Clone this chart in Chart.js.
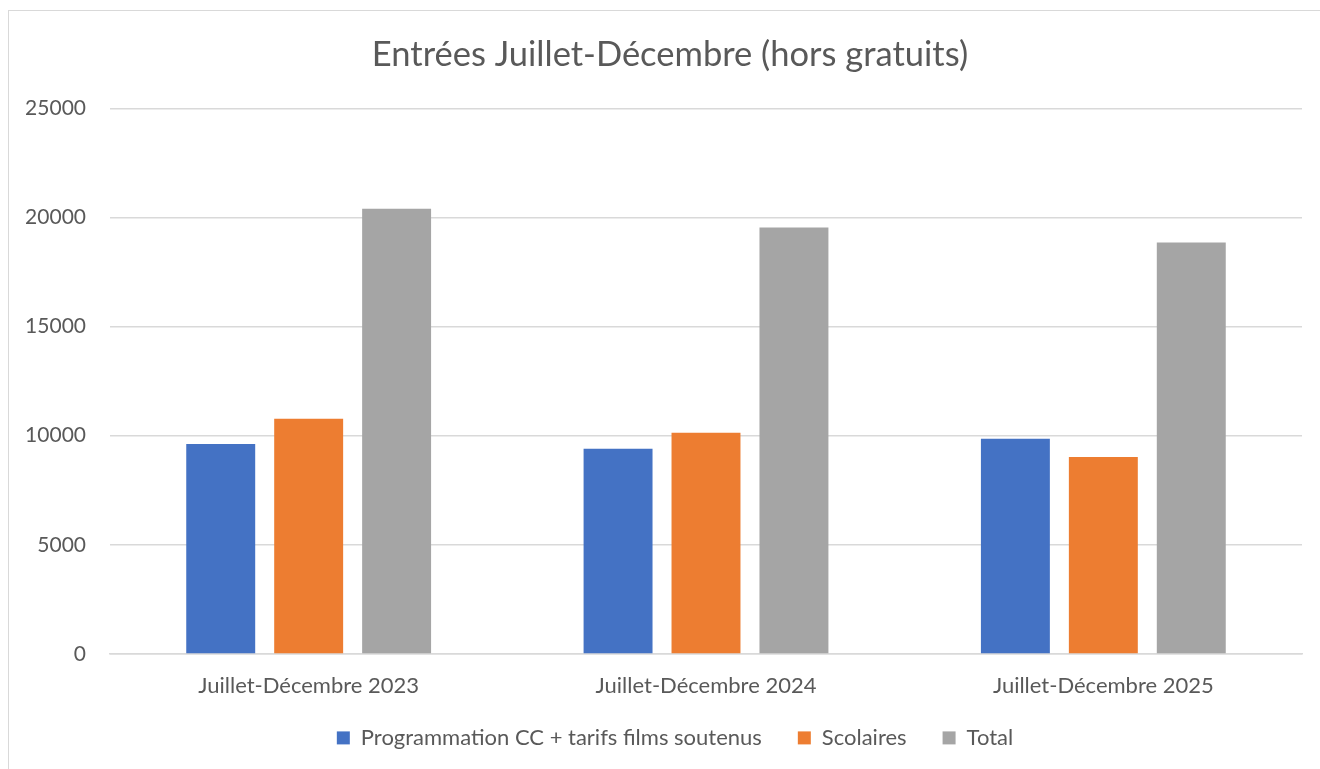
<!DOCTYPE html>
<html><head><meta charset="utf-8">
<script src="https://cdn.jsdelivr.net/npm/chart.js@4"></script>
<style>
html,body{margin:0;padding:0;background:#fff;overflow:hidden}
#frame{position:absolute;left:8px;top:10px;width:1400px;height:900px;border:1.5px solid #d9d9d9;box-sizing:border-box}
#wrap{position:absolute;left:0;top:0;width:1320px;height:769px}
</style></head><body>
<div id="frame"></div>
<div id="wrap"><canvas id="c" width="1320" height="769"></canvas></div>
<script>
const categories = ["Juillet-Décembre 2023","Juillet-Décembre 2024","Juillet-Décembre 2025"];
const programmation = [9620, 9400, 9860];
const scolaires = [10780, 10140, 9020];
const total = [20400, 19540, 18850];
const seriesNames = ["Programmation CC + tarifs films soutenus","Scolaires","Total"];
const yTicks = [0,5000,10000,15000,20000,25000];

const FONT = "Lato, 'Open Sans', sans-serif";
const TXT = "#595959";

const nudge = {
  id: 'nudge',
  afterLayout(chart) {
    const t = chart.titleBlock;
    if (t) { t.left += 19; t.right += 19; }
    const l = chart.legend;
    if (l) { l.left += 24; l.right += 24; l.top -= 8.5; l.bottom -= 8.5; }
  }
};

new Chart(document.getElementById('c'), {
  type: 'bar',
  data: {
    labels: categories,
    datasets: [
      {label: seriesNames[0], data: programmation, backgroundColor: '#4472C4'},
      {label: seriesNames[1], data: scolaires, backgroundColor: '#ED7D31'},
      {label: seriesNames[2], data: total, backgroundColor: '#A5A5A5'}
    ]
  },
  plugins: [nudge],
  options: {
    responsive: false,
    animation: false,
    devicePixelRatio: 1,
    layout: {padding: {left: 0, right: 18, top: 0, bottom: 1.6}},
    datasets: {bar: {categoryPercentage: 0.664, barPercentage: 0.784}},
    plugins: {
      title: {display: true, text: "Entrées Juillet-Décembre (hors gratuits)", color: TXT,
        font: {family: FONT, size: 34.5, weight: 'normal'}, padding: {top: 34, bottom: 33}},
      legend: {position: 'bottom', labels: {color: TXT, font: {family: FONT, size: 22},
        boxWidth: 13, boxHeight: 13, padding: 36}},
      tooltip: {enabled: false}
    },
    scales: {
      x: {
        afterFit: (ax) => { ax.height = 45.5; },
        grid: {display: false, drawTicks: false},
        border: {color: '#d9d9d9', width: 1.5},
        ticks: {color: TXT, font: {family: FONT, size: 22}, padding: 19}
      },
      y: {
        min: 0, max: 25000,
        afterBuildTicks: (ax) => { ax.ticks = yTicks.map(v => ({value: v})); },
        afterFit: (ax) => { ax.width = 110; },
        grid: {color: '#d9d9d9', lineWidth: 1.5, drawTicks: false},
        border: {display: false},
        ticks: {color: TXT, font: {family: FONT, size: 21}, padding: 24, callback: (v) => String(v)}
      }
    }
  }
});
</script></body></html>
